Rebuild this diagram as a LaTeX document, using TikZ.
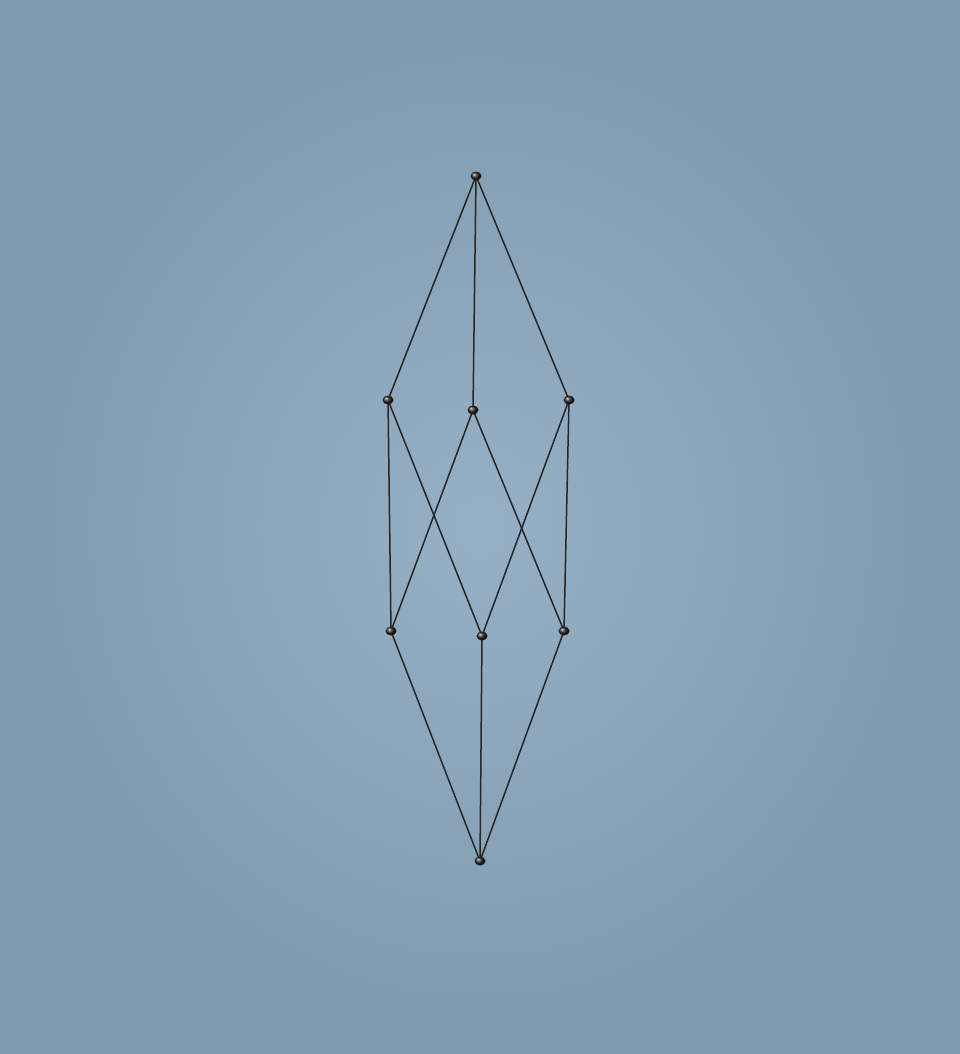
\documentclass[tikz,border=0pt]{standalone}
\usetikzlibrary{shadings,shapes.geometric}
\definecolor{bgin}{RGB}{150,177,197}
\definecolor{bgout}{RGB}{127,154,174}
\definecolor{edgecol}{RGB}{38,38,36}
\definecolor{ballcol}{RGB}{20,18,16}
\begin{document}
\begin{tikzpicture}[x=1pt,y=-1pt,
  vtx/.style={ellipse,inner sep=0pt,minimum width=11pt,minimum height=9pt,ball color=ballcol!92!white,shading=ball},
  edge/.style={draw=edgecol,line width=1.5pt}]
\shade[inner color=bgin,outer color=bgout] (0,0) rectangle (960,1054);
\useasboundingbox (0,0) rectangle (960,1054);
\coordinate (t) at (476,176);
\coordinate (ml) at (388,400);
\coordinate (mc) at (473,410);
\coordinate (mr) at (569,400);
\coordinate (ll) at (391,631);
\coordinate (lc) at (482,636);
\coordinate (lr) at (564,631);
\coordinate (b) at (480,861);
\draw[edge] (t) -- (ml);
\draw[edge] (t) -- (mc);
\draw[edge] (t) -- (mr);
\draw[edge] (ml) -- (ll);
\draw[edge] (ml) -- (lc);
\draw[edge] (mc) -- (ll);
\draw[edge] (mc) -- (lr);
\draw[edge] (mr) -- (lc);
\draw[edge] (mr) -- (lr);
\draw[edge] (ll) -- (b);
\draw[edge] (lc) -- (b);
\draw[edge] (lr) -- (b);
\node[vtx] (nt) at (t) {};
\node[vtx] (nml) at (ml) {};
\node[vtx] (nmc) at (mc) {};
\node[vtx] (nmr) at (mr) {};
\node[vtx] (nll) at (ll) {};
\node[vtx] (nlc) at (lc) {};
\node[vtx] (nlr) at (lr) {};
\node[vtx] (nb) at (b) {};
\end{tikzpicture}
\end{document}
